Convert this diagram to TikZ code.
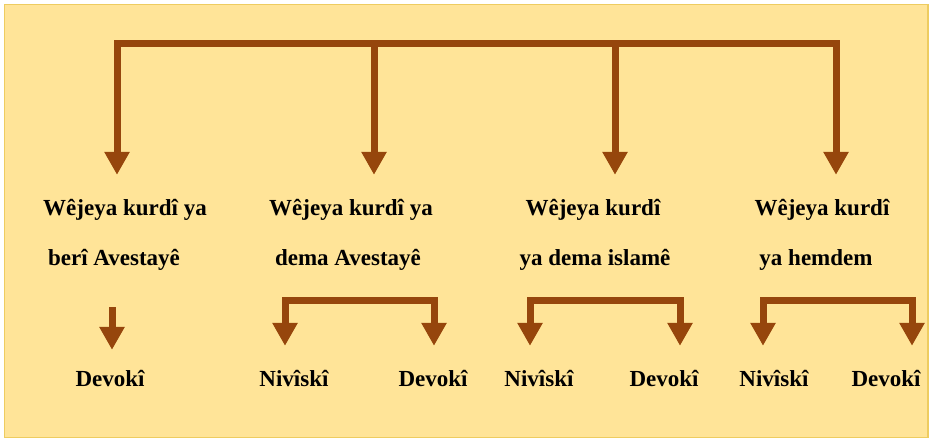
\documentclass[tikz,border=0pt]{standalone}
\usepackage{fontspec}
\setmainfont{Liberation Serif}
\usetikzlibrary{arrows.meta}
\definecolor{brownarrow}{RGB}{150,70,12}
\definecolor{paper}{RGB}{255,228,152}
\definecolor{frame}{RGB}{238,204,96}
\tikzstyle{term} = [font=\fontsize{23}{28}\selectfont\bfseries, inner sep=0pt, text height=17pt, text depth=5pt]
\tikzstyle{bar} = [line width=7pt, color=brownarrow, line cap=rect]
\tikzstyle{arrow} = [line width=7pt, color=brownarrow, -{Triangle[width=24pt,length=23pt]}, shorten >=23pt]

\begin{document}
\begin{tikzpicture}[x=1pt, y=-1pt, node distance=50pt]
      \useasboundingbox (0,0) rectangle (935,440);
      \fill [white] (0,0) rectangle (935,440);
      \draw [draw=frame, fill=paper, line width=1.5pt] (4.5,4.5) rectangle (928,437.5);

      \node (era1) [term] at (125,209) {Wêjeya kurdî ya};
      \node (era2) [term] at (351,209) {Wêjeya kurdî ya};
      \node (era3) [term] at (593,209) {Wêjeya kurdî};
      \node (era4) [term] at (822,209) {Wêjeya kurdî};
      \node (sub1) [term, below of=era1, xshift=-11pt] {berî Avestayê};
      \node (sub2) [term, below of=era2, xshift=-3pt] {dema Avestayê};
      \node (sub3) [term, below of=era3, xshift=2pt] {ya dema islamê};
      \node (sub4) [term, below of=era4, xshift=-6pt] {ya hemdem};

      \node (oral1) [term] at (110,380) {Devokî};
      \node (writ2) [term] at (294,380) {Nivîskî};
      \node (oral2) [term] at (433,380) {Devokî};
      \node (writ3) [term] at (539,380) {Nivîskî};
      \node (oral3) [term] at (664,380) {Devokî};
      \node (writ4) [term] at (774,380) {Nivîskî};
      \node (oral4) [term] at (886,380) {Devokî};

      \coordinate (top1) at (117,43);
      \coordinate (top2) at (374,43);
      \coordinate (top3) at (615,43);
      \coordinate (top4) at (836,43);
      \coordinate (fork1) at (112,307);
      \coordinate (fork2l) at (285,300);
      \coordinate (fork2r) at (434,300);
      \coordinate (fork3l) at (530,300);
      \coordinate (fork3r) at (680,300);
      \coordinate (fork4l) at (763,300);
      \coordinate (fork4r) at (912,300);

      % Arrows
      \draw [bar] (top1) -- (top4);
      \draw [arrow] (top1) -- (top1 |- era1.north);
      \draw [arrow] (top2) -- (top2 |- era2.north);
      \draw [arrow] (top3) -- (top3 |- era3.north);
      \draw [arrow] (top4) -- (top4 |- era4.north);
      \draw [arrow, shorten >=19pt] (fork1) -- (fork1 |- oral1.north);
      \draw [bar] (fork2l) -- (fork2r);
      \draw [arrow] (fork2l) -- (fork2l |- writ2.north);
      \draw [arrow] (fork2r) -- (fork2r |- oral2.north);
      \draw [bar] (fork3l) -- (fork3r);
      \draw [arrow] (fork3l) -- (fork3l |- writ3.north);
      \draw [arrow] (fork3r) -- (fork3r |- oral3.north);
      \draw [bar] (fork4l) -- (fork4r);
      \draw [arrow] (fork4l) -- (fork4l |- writ4.north);
      \draw [arrow] (fork4r) -- (fork4r |- oral4.north);

\end{tikzpicture}
\end{document}
